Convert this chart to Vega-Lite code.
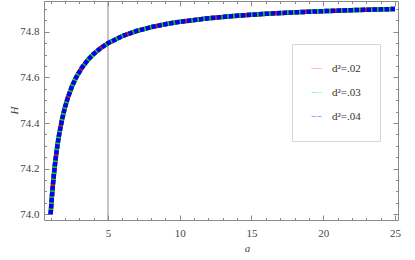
{
  "$schema": "https://vega.github.io/schema/vega-lite/v6.json",
  "width": 354,
  "height": 219,
  "autosize": "none",
  "padding": {"left": 44, "top": 1, "right": 17, "bottom": 40},
  "background": "white",
  "config": {
    "view": {"stroke": "#8a8a8a", "strokeWidth": 1},
    "axis": {
      "domain": false,
      "grid": false,
      "tickColor": "#8a8a8a",
      "tickWidth": 1,
      "labelFont": "Liberation Serif",
      "labelFontSize": 11,
      "labelColor": "#444444",
      "titleFont": "Liberation Serif",
      "titleFontStyle": "italic",
      "titleFontWeight": "normal",
      "titleFontSize": 11,
      "titleColor": "#444444"
    }
  },
  "datasets": {
    "curve": [
      {"a": 1, "H": 74.0, "d": "d²=.02"}, {"a": 1.1, "H": 74.0852, "d": "d²=.02"}, {"a": 1.2, "H": 74.1563, "d": "d²=.02"}, {"a": 1.3, "H": 74.2163, "d": "d²=.02"}, {"a": 1.4, "H": 74.2679, "d": "d²=.02"}, {"a": 1.5, "H": 74.3125, "d": "d²=.02"}, {"a": 1.6, "H": 74.3516, "d": "d²=.02"}, {"a": 1.8, "H": 74.4167, "d": "d²=.02"}, {"a": 2, "H": 74.4688, "d": "d²=.02"}, {"a": 2.2, "H": 74.5114, "d": "d²=.02"}, {"a": 2.5, "H": 74.5625, "d": "d²=.02"}, {"a": 2.8, "H": 74.6027, "d": "d²=.02"}, {"a": 3.2, "H": 74.6445, "d": "d²=.02"}, {"a": 3.6, "H": 74.6771, "d": "d²=.02"}, {"a": 4, "H": 74.7031, "d": "d²=.02"}, {"a": 4.5, "H": 74.7292, "d": "d²=.02"}, {"a": 5, "H": 74.75, "d": "d²=.02"}, {"a": 6, "H": 74.7813, "d": "d²=.02"}, {"a": 7, "H": 74.8036, "d": "d²=.02"}, {"a": 8, "H": 74.8203, "d": "d²=.02"}, {"a": 9, "H": 74.8333, "d": "d²=.02"}, {"a": 10, "H": 74.8438, "d": "d²=.02"}, {"a": 12, "H": 74.8594, "d": "d²=.02"}, {"a": 14, "H": 74.8705, "d": "d²=.02"}, {"a": 16, "H": 74.8789, "d": "d²=.02"}, {"a": 18, "H": 74.8854, "d": "d²=.02"}, {"a": 20, "H": 74.8906, "d": "d²=.02"}, {"a": 22, "H": 74.8949, "d": "d²=.02"}, {"a": 25, "H": 74.9, "d": "d²=.02"},
      {"a": 1, "H": 74.0, "d": "d²=.03"}, {"a": 1.1, "H": 74.0852, "d": "d²=.03"}, {"a": 1.2, "H": 74.1563, "d": "d²=.03"}, {"a": 1.3, "H": 74.2163, "d": "d²=.03"}, {"a": 1.4, "H": 74.2679, "d": "d²=.03"}, {"a": 1.5, "H": 74.3125, "d": "d²=.03"}, {"a": 1.6, "H": 74.3516, "d": "d²=.03"}, {"a": 1.8, "H": 74.4167, "d": "d²=.03"}, {"a": 2, "H": 74.4688, "d": "d²=.03"}, {"a": 2.2, "H": 74.5114, "d": "d²=.03"}, {"a": 2.5, "H": 74.5625, "d": "d²=.03"}, {"a": 2.8, "H": 74.6027, "d": "d²=.03"}, {"a": 3.2, "H": 74.6445, "d": "d²=.03"}, {"a": 3.6, "H": 74.6771, "d": "d²=.03"}, {"a": 4, "H": 74.7031, "d": "d²=.03"}, {"a": 4.5, "H": 74.7292, "d": "d²=.03"}, {"a": 5, "H": 74.75, "d": "d²=.03"}, {"a": 6, "H": 74.7813, "d": "d²=.03"}, {"a": 7, "H": 74.8036, "d": "d²=.03"}, {"a": 8, "H": 74.8203, "d": "d²=.03"}, {"a": 9, "H": 74.8333, "d": "d²=.03"}, {"a": 10, "H": 74.8438, "d": "d²=.03"}, {"a": 12, "H": 74.8594, "d": "d²=.03"}, {"a": 14, "H": 74.8705, "d": "d²=.03"}, {"a": 16, "H": 74.8789, "d": "d²=.03"}, {"a": 18, "H": 74.8854, "d": "d²=.03"}, {"a": 20, "H": 74.8906, "d": "d²=.03"}, {"a": 22, "H": 74.8949, "d": "d²=.03"}, {"a": 25, "H": 74.9, "d": "d²=.03"},
      {"a": 1, "H": 74.0, "d": "d²=.04"}, {"a": 1.1, "H": 74.0852, "d": "d²=.04"}, {"a": 1.2, "H": 74.1563, "d": "d²=.04"}, {"a": 1.3, "H": 74.2163, "d": "d²=.04"}, {"a": 1.4, "H": 74.2679, "d": "d²=.04"}, {"a": 1.5, "H": 74.3125, "d": "d²=.04"}, {"a": 1.6, "H": 74.3516, "d": "d²=.04"}, {"a": 1.8, "H": 74.4167, "d": "d²=.04"}, {"a": 2, "H": 74.4688, "d": "d²=.04"}, {"a": 2.2, "H": 74.5114, "d": "d²=.04"}, {"a": 2.5, "H": 74.5625, "d": "d²=.04"}, {"a": 2.8, "H": 74.6027, "d": "d²=.04"}, {"a": 3.2, "H": 74.6445, "d": "d²=.04"}, {"a": 3.6, "H": 74.6771, "d": "d²=.04"}, {"a": 4, "H": 74.7031, "d": "d²=.04"}, {"a": 4.5, "H": 74.7292, "d": "d²=.04"}, {"a": 5, "H": 74.75, "d": "d²=.04"}, {"a": 6, "H": 74.7813, "d": "d²=.04"}, {"a": 7, "H": 74.8036, "d": "d²=.04"}, {"a": 8, "H": 74.8203, "d": "d²=.04"}, {"a": 9, "H": 74.8333, "d": "d²=.04"}, {"a": 10, "H": 74.8438, "d": "d²=.04"}, {"a": 12, "H": 74.8594, "d": "d²=.04"}, {"a": 14, "H": 74.8705, "d": "d²=.04"}, {"a": 16, "H": 74.8789, "d": "d²=.04"}, {"a": 18, "H": 74.8854, "d": "d²=.04"}, {"a": 20, "H": 74.8906, "d": "d²=.04"}, {"a": 22, "H": 74.8949, "d": "d²=.04"}, {"a": 25, "H": 74.9, "d": "d²=.04"}
    ],
    "vline": [{"a": 5}]
  },
  "layer": [
    {
      "data": {"name": "curve"},
      "mark": {"type": "point", "opacity": 0},
      "encoding": {
        "x": {"field": "a", "type": "quantitative", "scale": {"domain": [0.54, 25.21], "nice": false, "zero": false},
              "axis": {"orient": "bottom", "values": [1,2,3,4,5,6,7,8,9,10,11,12,13,14,15,16,17,18,19,20,21,22,23,24,25], "labels": false, "tickSize": -2.5, "title": null}},
        "y": {"field": "H", "type": "quantitative", "scale": {"domain": [73.975, 74.935], "nice": false, "zero": false},
              "axis": {"orient": "left", "values": [74.0,74.05,74.1,74.15,74.2,74.25,74.3,74.35,74.4,74.45,74.5,74.55,74.6,74.65,74.7,74.75,74.8,74.85,74.9], "labels": false, "tickSize": -2.5, "title": null}}
      }
    },
    {
      "data": {"name": "curve"},
      "mark": {"type": "point", "opacity": 0},
      "encoding": {
        "x": {"field": "a", "type": "quantitative",
              "axis": {"orient": "top", "values": [1,2,3,4,5,6,7,8,9,10,11,12,13,14,15,16,17,18,19,20,21,22,23,24,25], "labels": false, "tickSize": -2.5, "title": null}},
        "y": {"field": "H", "type": "quantitative",
              "axis": {"orient": "right", "values": [74.0,74.05,74.1,74.15,74.2,74.25,74.3,74.35,74.4,74.45,74.5,74.55,74.6,74.65,74.7,74.75,74.8,74.85,74.9], "labels": false, "tickSize": -2.5, "title": null}}
      }
    },
    {
      "data": {"name": "curve"},
      "mark": {"type": "point", "opacity": 0},
      "encoding": {
        "x": {"field": "a", "type": "quantitative",
              "axis": {"orient": "top", "values": [5,10,15,20,25], "labels": false, "tickSize": -5, "title": null}},
        "y": {"field": "H", "type": "quantitative",
              "axis": {"orient": "right", "values": [74.0,74.2,74.4,74.6,74.8], "labels": false, "tickSize": -5, "title": null}}
      }
    },
    {
      "data": {"name": "vline"},
      "mark": {"type": "rule", "color": "#8a8a8a", "strokeWidth": 1},
      "encoding": {
        "x": {"field": "a", "type": "quantitative", "axis": null}
      }
    },
    {
      "data": {"name": "curve"},
      "mark": {"type": "line", "strokeWidth": 4.5, "strokeCap": "butt", "strokeJoin": "round"},
      "encoding": {
        "x": {"field": "a", "type": "quantitative",
              "axis": {"orient": "bottom", "values": [5,10,15,20,25], "tickSize": -5, "labelPadding": 12, "title": "a", "titleX": 203, "titleY": 28, "titleBaseline": "middle", "titleAnchor": "start", "titleAlign": "center"}},
        "y": {"field": "H", "type": "quantitative",
              "axis": {"orient": "left", "values": [74.0,74.2,74.4,74.6,74.8], "format": ".1f", "tickSize": -5, "labelPadding": 10, "title": "H", "titleX": -30, "titleY": 109, "titleAngle": -90, "titleBaseline": "middle", "titleAlign": "center", "titleAnchor": "start"}},
        "color": {"field": "d", "type": "nominal", "sort": ["d²=.02", "d²=.03", "d²=.04"],
                  "scale": {"domain": ["d²=.02", "d²=.03", "d²=.04"], "range": ["#ff0000", "#00e000", "#0000ff"]},
                  "legend": {"title": null, "orient": "none", "legendX": 248, "legendY": 43, "padding": 19, "rowPadding": 12, "fillColor": "white", "strokeColor": "#d6d6d6", "symbolType": "stroke", "symbolSize": 100, "symbolStrokeWidth": 1, "symbolOpacity": 0.35, "labelFont": "Liberation Serif", "labelFontSize": 11, "labelColor": "#333333", "labelOffset": 10}},
        "strokeDash": {"field": "d", "type": "nominal", "sort": ["d²=.02", "d²=.03", "d²=.04"],
                  "scale": {"domain": ["d²=.02", "d²=.03", "d²=.04"], "range": [[1, 0], [6, 1.5], [4.5, 1.5]]},
                  "legend": null}
      }
    }
  ],
  "resolve": {"axis": {"x": "independent", "y": "independent"}}
}
